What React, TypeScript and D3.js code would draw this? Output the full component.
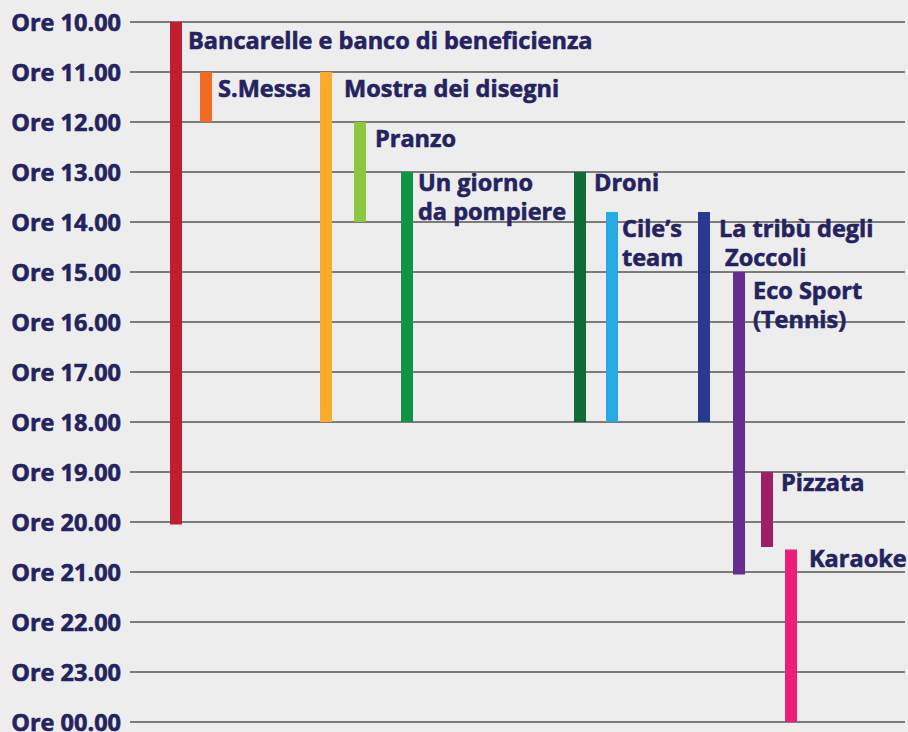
import * as d3 from 'd3'
import { useEffect, useRef } from 'react'

const hourTicks = [10, 11, 12, 13, 14, 15, 16, 17, 18, 19, 20, 21, 22, 23, 24]
const tickLabels = [
  'Ore 10.00', 'Ore 11.00', 'Ore 12.00', 'Ore 13.00', 'Ore 14.00',
  'Ore 15.00', 'Ore 16.00', 'Ore 17.00', 'Ore 18.00', 'Ore 19.00',
  'Ore 20.00', 'Ore 21.00', 'Ore 22.00', 'Ore 23.00', 'Ore 00.00',
]

const events = [
  ['Bancarelle e banco di beneficienza'],
  ['S.Messa'],
  ['Mostra dei disegni'],
  ['Pranzo'],
  ['Un giorno', 'da pompiere'],
  ['Droni'],
  ['Cile’s', 'team'],
  ['La tribù degli', ' Zoccoli'],
  ['Eco Sport', '(Tennis)'],
  ['Pizzata'],
  ['Karaoke'],
]
const starts = [10, 11, 11, 12, 13, 13, 13.8, 13.8, 15, 19, 20.55]
const ends = [20.05, 12, 18, 14, 18, 18, 18, 18, 21.05, 20.5, 24]

// layout + style, kept apart from the values
const barX = [170, 200, 320, 354, 401, 574, 606, 698, 733, 761, 785]
const labelDx = [6, 6, 12, 9, 5, 8, 4, 9, 8, 8, 12]
const labelDy = [20, 18, 18, 18, 12, 12, 18, 18, 20, 12, 10]
const colors = [
  '#be1e2d', '#f26a22', '#fbab2b', '#8dc63f', '#0f9444', '#0f6b37',
  '#27aae1', '#283a8f', '#662d91', '#9e1f63', '#ed1e79',
]

const App = () => {
  const svgRef = useRef()

  useEffect(() => {
    const svg = d3.select(svgRef.current)
    svg.selectAll('*').remove()
    const width = 908
    const height = 732
    const barW = 12
    const navy = '#25235f'
    const font = '"Open Sans", Lato, sans-serif'

    const y = d3.scaleLinear().domain([10, 24]).range([22, 722])

    // paper background
    svg.append('rect').attr('width', width).attr('height', height).attr('fill', '#ededed')

    // grid lines
    svg.selectAll('.grid')
      .data(hourTicks)
      .enter()
      .append('line')
      .attr('x1', 130)
      .attr('x2', 905)
      .attr('y1', (d) => y(d))
      .attr('y2', (d) => y(d))
      .attr('stroke', '#555')
      .attr('stroke-width', 1.5)

    // tick labels
    svg.selectAll('.tick-label')
      .data(hourTicks)
      .enter()
      .append('text')
      .attr('x', 121)
      .attr('y', (d) => y(d) + 9)
      .attr('text-anchor', 'end')
      .style('font-family', font)
      .style('font-weight', 'bold')
      .style('font-size', '23.5px')
      .style('fill', navy)
      .style('stroke', navy)
      .style('stroke-width', 0.6)
      .text((d, i) => tickLabels[i])

    // bars
    svg.selectAll('.bar')
      .data(events)
      .enter()
      .append('rect')
      .attr('x', (d, i) => barX[i])
      .attr('y', (d, i) => y(starts[i]))
      .attr('width', barW)
      .attr('height', (d, i) => y(ends[i]) - y(starts[i]))
      .attr('fill', (d, i) => colors[i])

    // event labels
    events.forEach((lines, i) => {
      const lx = barX[i] + barW + labelDx[i]
      const t = svg.append('text')
        .attr('x', lx)
        .attr('y', y(starts[i]) + labelDy[i] + 7)
        .style('font-family', font)
        .style('font-weight', 'bold')
        .style('font-size', '23.5px')
        .style('fill', navy)
        .style('stroke', navy)
        .style('stroke-width', 0.6)
        .style('white-space', 'pre')
      lines.forEach((line, j) => {
        t.append('tspan')
          .attr('x', lx)
          .attr('dy', j === 0 ? 0 : 29)
          .text(line)
      })
    })
  }, [])

  return (
    <svg
      ref={svgRef}
      width="908"
      height="732"
      style={{ position: 'absolute', left: 0, top: 0, display: 'block' }}
    ></svg>
  )
}

export default App
